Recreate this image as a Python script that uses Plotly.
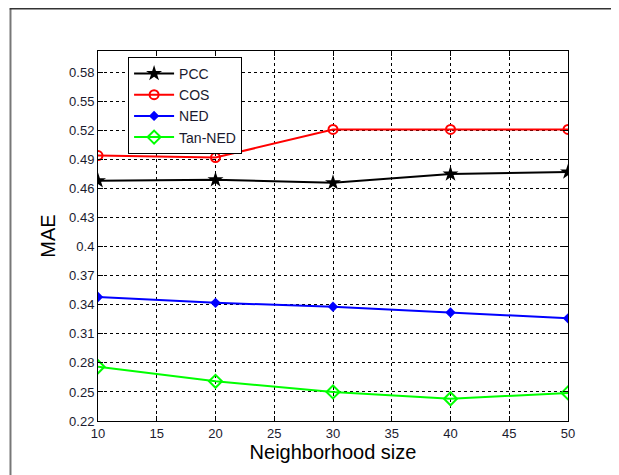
import plotly.graph_objects as go

sizes = [10, 20, 30, 40, 50]
pcc = [0.468, 0.469, 0.466, 0.475, 0.477]
cos = [0.494, 0.492, 0.521, 0.521, 0.521]
ned = [0.348, 0.342, 0.338, 0.332, 0.326]
tan_ned = [0.276, 0.261, 0.250, 0.243, 0.249]
yticks = [0.22, 0.25, 0.28, 0.31, 0.34, 0.37, 0.4, 0.43, 0.46, 0.49, 0.52, 0.55, 0.58]
ytick_text = ["0.22", "0.25", "0.28", "0.31", "0.34", "0.37", "0.4", "0.43", "0.46", "0.49", "0.52", "0.55", "0.58"]
xticks = [10, 15, 20, 25, 30, 35, 40, 45, 50]

fig = go.Figure()
fig.add_trace(go.Scatter(x=sizes, y=pcc, name="PCC", mode="lines+markers",
                         line=dict(color="black", width=2),
                         marker=dict(symbol="star", size=12, color="black")))
fig.add_trace(go.Scatter(x=sizes, y=cos, name="COS", mode="lines+markers",
                         line=dict(color="red", width=2),
                         marker=dict(symbol="circle-open", size=9, color="red", line=dict(width=2))))
fig.add_trace(go.Scatter(x=sizes, y=ned, name="NED", mode="lines+markers",
                         line=dict(color="blue", width=2),
                         marker=dict(symbol="diamond", size=8, color="blue")))
fig.add_trace(go.Scatter(x=sizes, y=tan_ned, name="Tan-NED", mode="lines+markers",
                         line=dict(color="#00ff00", width=2),
                         marker=dict(symbol="diamond-open", size=10, color="#00ff00", line=dict(width=2))))

axis_common = dict(showline=True, linecolor="black", linewidth=1, mirror="ticks",
                   ticks="inside", ticklen=5, tickcolor="black", automargin=False,
                   showgrid=True, gridcolor="black", gridwidth=1, griddash="3px,3px",
                   zeroline=False, tickfont=dict(family="Liberation Sans, Arial", size=13, color="#1a1a2e"))

fig.update_xaxes(range=[10, 50], tickvals=xticks,
                 title=dict(text="Neighborhood size", font=dict(family="Liberation Sans, Arial", size=20, color="black"), standoff=5),
                 **axis_common)
fig.update_yaxes(range=[0.22, 0.602], tickvals=yticks, ticktext=ytick_text,
                 title=dict(text="MAE", font=dict(family="Liberation Sans, Arial", size=20, color="black"), standoff=8),
                 **axis_common)

# outer figure frame (left and top edges only)
fig.add_shape(type="line", xref="paper", yref="paper",
              x0=-0.1862, x1=-0.1862, y0=-0.2, y1=1.1149,
              line=dict(color="#777777", width=2), layer="below")
fig.add_shape(type="line", xref="paper", yref="paper",
              x0=-0.188, x1=1.2, y0=1.1149, y1=1.1149,
              line=dict(color="#333333", width=2), layer="below")

fig.update_layout(
    width=611, height=467,
    margin=dict(l=90, r=51, t=43, b=54, autoexpand=False),
    paper_bgcolor="white", plot_bgcolor="white",
    showlegend=True,
    legend=dict(x=0.064, y=0.984, xanchor="left", yanchor="top",
                bgcolor="white", bordercolor="black", borderwidth=1,
                font=dict(family="Liberation Sans, Arial", size=14, color="#1a1a2e"),
                tracegroupgap=0, itemwidth=40),
)

fig.write_html("out.html")
